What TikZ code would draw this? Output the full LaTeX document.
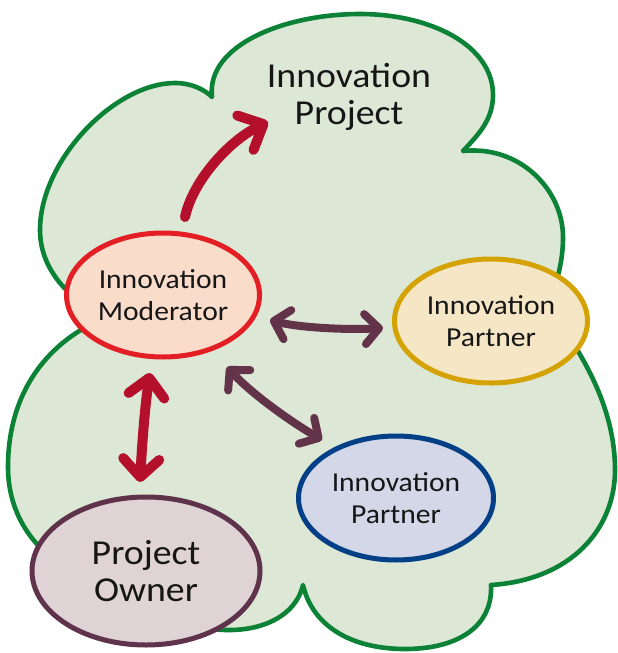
\documentclass[tikz,border=0pt]{standalone}
\usepackage{fontspec}
\setmainfont{Carlito}[FakeStretch=1.08]
\usetikzlibrary{arrows.meta,shapes.geometric}
\definecolor{cloudfill}{HTML}{DCE7D6}
\definecolor{cloudline}{HTML}{0B8236}
\definecolor{modfill}{HTML}{FADCCB}
\definecolor{modline}{HTML}{E31E24}
\definecolor{yfill}{HTML}{F5E7C5}
\definecolor{yline}{HTML}{D4A202}
\definecolor{bfill}{HTML}{D3D7E8}
\definecolor{bline}{HTML}{023F87}
\definecolor{ofill}{HTML}{DFD3D6}
\definecolor{oline}{HTML}{5E334B}
\definecolor{redarrow}{HTML}{B5102B}
\definecolor{plum}{HTML}{633349}
\definecolor{ink}{HTML}{161616}
\begin{document}
\begin{tikzpicture}[x=1pt,y=-1pt,
  bubble/.style={ellipse, line width=5pt, inner sep=0pt, align=center, text=ink},
  smalltext/.style={font={\fontsize{27.4}{32}\selectfont}},
  bigtext/.style={font={\fontsize{35}{37}\selectfont}},
  redone/.style={draw=redarrow, line width=10pt, line cap=round,
    -{Straight Barb[length=20pt,width=38pt,round]}},
  redtwo/.style={draw=redarrow, line width=10pt, line cap=round,
    {Straight Barb[length=18pt,width=36pt,round]}-{Straight Barb[length=18pt,width=36pt,round]}},
  plumtwo/.style={draw=plum, line width=8pt, line cap=round,
    {Straight Barb[length=14pt,width=30pt,round]}-{Straight Barb[length=14pt,width=30pt,round]}}
]
\useasboundingbox (0,0) rectangle (618,653);

% cloud
\path[fill=cloudfill, draw=cloudline, line width=4.6pt, line join=round]
 (212,97) .. controls (206,45) and (285,14) .. (360,14)
 .. controls (430,14) and (493,45) .. (493,95)
 .. controls (493,120) and (478,135) .. (463,151)
 .. controls (520,145) and (563,190) .. (563,237)
 .. controls (563,260) and (558,280) .. (548,305)
 .. controls (575,345) and (615,400) .. (615,470)
 .. controls (615,530) and (570,580) .. (491,585)
 .. controls (493,625) and (460,649) .. (405,649)
 .. controls (350,649) and (312,625) .. (303,585)
 .. controls (295,620) and (250,640) .. (190,625)
 -- (90,580)
 .. controls (40,560) and (8,520) .. (8,467)
 .. controls (8,390) and (50,340) .. (105,318)
 .. controls (70,300) and (40,270) .. (40,230)
 .. controls (40,160) and (115,83) .. (175,83)
 .. controls (192,83) and (205,90) .. (212,97) -- cycle;

% nodes
\node[text=ink, bigtext, align=center] (proj) at (349,97) {Innovation\\Project};
\node[bubble, smalltext, draw=modline, fill=modfill, minimum width=193pt, minimum height=124pt] (mod) at (163,295) {Innovation\\Moderator};
\node[bubble, smalltext, draw=yline, fill=yfill, minimum width=193pt, minimum height=124pt] (par1) at (491,321) {Innovation\\Partner};
\node[bubble, smalltext, draw=bline, fill=bfill, minimum width=195pt, minimum height=124pt] (par2) at (396,498) {Innovation\\Partner};
\node[bubble, bigtext, draw=oline, fill=ofill, minimum width=228pt, minimum height=148pt] (own) at (146,571) {Project\\Owner};

% arrow end points
\coordinate (a1s) at (185,217);
\coordinate (a1e) at (268,122);
\coordinate (a2s) at (150,373);
\coordinate (a2e) at (140,482);
\coordinate (a3s) at (270,320);
\coordinate (a3e) at (383,328);
\coordinate (a4s) at (227,367);
\coordinate (a4e) at (322,440);

% connectors
\draw[redone] (a1s) .. controls (193,180) and (230,140) .. (a1e);
\draw[redtwo] (a2s) .. controls (145,405) and (142,445) .. (a2e);
\draw[plumtwo] (a3s) .. controls (300,328) and (350,330) .. (a3e);
\draw[plumtwo] (a4s) .. controls (250,392) and (285,418) .. (a4e);
\end{tikzpicture}
\end{document}
